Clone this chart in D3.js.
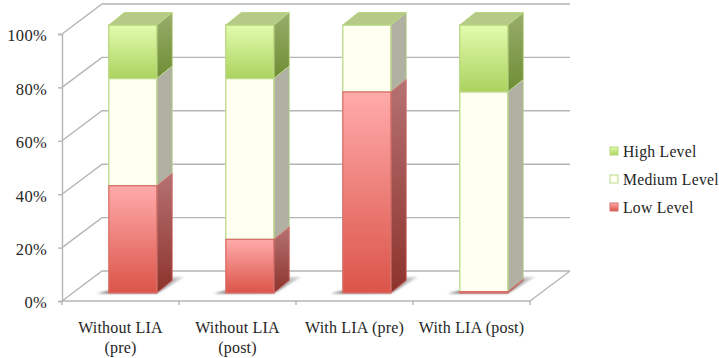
<!DOCTYPE html>
<html>
<head>
<meta charset="utf-8">
<script src="https://d3js.org/d3.v7.min.js"></script>
<style>
  html, body { margin: 0; padding: 0; background: #fff; }
  svg { display: block; }
  text { font-family: "Liberation Serif", serif; fill: #262626; }
</style>
</head>
<body>
<svg id="chart" width="719" height="358"></svg>
<script>
const categories = ["Without LIA|(pre)", "Without LIA|(post)", "With LIA (pre)", "With LIA (post)"];
const lowLevel = [0.40, 0.20, 0.75, 0.005];
const mediumLevel = [0.40, 0.60, 0.25, 0.745];
const highLevel = [0.20, 0.20, 0, 0.25];
const seriesKeys = ["low", "medium", "high"];
const seriesNames = { low: "Low Level", medium: "Medium Level", high: "High Level" };
const yTickValues = [0, 0.2, 0.4, 0.6, 0.8, 1];

const svg = d3.select("#chart");

// Perspective offsets: the back wall and the bars' own depth
const wallDX = 40, wallDY = -30;
const barDX = 15.5, barDY = -12.5;
const barWidth = 48, barInset = 46.8;

const x = d3.scaleBand().domain(categories).range([62, 530]);
const yFront = d3.scaleLinear().domain([0, 1]).range([301, 34]);
const yBar = d3.scaleLinear().domain([0, 1]).range([293, 25]);

const rows = categories.map((c, i) => ({
  category: c, low: lowLevel[i], medium: mediumLevel[i], high: highLevel[i]
}));
const stacked = d3.stack().keys(seriesKeys)(rows);

// Gradients and face colours per series
const palette = {
  low: { front: ["#ffabab", "#db5448"], side: ["#b57272", "#8d332c"], stroke: "#d8716a" },
  medium: { front: ["#fffff2", "#fffff2"], side: ["#b0b0a3", "#b0b0a3"], stroke: "#bcd98c" },
  high: { front: ["#e2fcae", "#abd25e"], side: ["#98ac6c", "#6e8d33"], stroke: "#b9d77f" }
};
const defs = svg.append("defs");
function addGradient(id, stops) {
  const g = defs.append("linearGradient").attr("id", id)
    .attr("x1", 0).attr("y1", 0).attr("x2", 0).attr("y2", 1);
  g.append("stop").attr("offset", "0%").attr("stop-color", stops[0]);
  g.append("stop").attr("offset", "100%").attr("stop-color", stops[1]);
}
seriesKeys.forEach(k => {
  addGradient("front-" + k, palette[k].front);
  addGradient("side-" + k, palette[k].side);
});
defs.append("filter").attr("id", "soft")
  .attr("x", "-20%").attr("y", "-40%").attr("width", "140%").attr("height", "180%")
  .append("feGaussianBlur").attr("stdDeviation", 1.1);
const shade = defs.append("linearGradient").attr("id", "floor-shadow")
  .attr("x1", 0).attr("y1", 0.6).attr("x2", 1).attr("y2", 0.4);
shade.append("stop").attr("offset", "0%").attr("stop-color", "#777777");
shade.append("stop").attr("offset", "70%").attr("stop-color", "#8f8f8f");
shade.append("stop").attr("offset", "100%").attr("stop-color", "#cfcfcf");

// Walls and floor
const gridColor = "#b5b5b5";
const walls = svg.append("g").attr("fill", "none").attr("stroke", gridColor).attr("stroke-width", 1.4);
yTickValues.forEach(v => {
  const yy = yFront(v);
  walls.append("path").attr("d", d3.line()([[62, yy], [62 + wallDX, yy + wallDY], [570, yy + wallDY]]));
});
walls.append("path").attr("d", d3.line()([[530, 301], [570, 301 + wallDY]]));
walls.append("path").attr("d", d3.line()([[62, 301], [530, 301]]));

// Axes
const yAxis = d3.axisLeft(yFront).tickValues(yTickValues).tickFormat(d3.format(".0%"))
  .tickSize(4).tickPadding(11);
const gy = svg.append("g").attr("transform", "translate(62,0)").call(yAxis);
gy.selectAll("path, line").attr("stroke", gridColor).attr("stroke-width", 1.4);
gy.selectAll("text").attr("font-size", 16.5).attr("letter-spacing", 0.3)
  .attr("font-family", "Liberation Serif").attr("dy", "0.42em");

const xAxis = d3.axisBottom(x).tickSize(0).tickPadding(0).tickFormat("");
const gx = svg.append("g").attr("transform", "translate(0,301)").call(xAxis);
gx.select("path").remove();
gx.selectAll("g.tick").each(function (d) {
  const lines = d.split("|");
  const t = d3.select(this).select("text")
    .attr("font-size", 16).attr("letter-spacing", 0.2)
    .attr("font-family", "Liberation Serif").attr("y", 0).attr("dy", null);
  lines.forEach((s, i) => t.append("tspan").attr("x", 0).attr("y", 32 + i * 20).text(s));
});
const edges = categories.map(c => x(c)).concat([x.range()[1]]);
svg.append("g").selectAll("line").data(edges).join("line")
  .attr("x1", d => d).attr("x2", d => d).attr("y1", 301).attr("y2", 305)
  .attr("stroke", gridColor).attr("stroke-width", 1.4);

// Soft floor shadows beneath each bar
svg.append("g").selectAll("path").data(categories).join("path")
  .attr("d", c => {
    const l = x(c) + barInset, b = yBar(0);
    return d3.line()([[l - 12, b + 0.5], [l + barWidth, b + 0.5], [l + barWidth + 27, b - 16], [l + barWidth + 10, b - 16]]);
  })
  .attr("fill", "url(#floor-shadow)")
  .attr("filter", "url(#soft)");

// Bars: each stacked segment gets a side face and a front face. Drawn from the
// top series down so the lower segment's outline sits over the shared edge.
const bars = svg.append("g");
stacked.slice().reverse().forEach(series => {
  const k = series.key;
  const seg = bars.append("g");
  series.forEach((d, i) => {
    if (d[1] - d[0] <= 0) return;
    const l = x(categories[i]) + barInset, r = l + barWidth;
    const y0 = yBar(d[0]), y1 = yBar(d[1]);
    seg.append("path")
      .attr("d", d3.line()([[r, y0], [r + barDX, y0 + barDY], [r + barDX, y1 + barDY], [r, y1]]) + "Z")
      .attr("fill", `url(#side-${k})`)
      .attr("stroke", palette[k].stroke)
      .attr("stroke-width", 1)
      .attr("stroke-opacity", 0.8);
    seg.append("rect")
      .attr("x", l).attr("y", y1).attr("width", barWidth).attr("height", y0 - y1)
      .attr("fill", `url(#front-${k})`)
      .attr("stroke", palette[k].stroke)
      .attr("stroke-width", 1.3);
  });
});

// Top caps always take the colour of the uppermost series
bars.append("g").selectAll("path").data(categories).join("path")
  .attr("d", c => {
    const l = x(c) + barInset, r = l + barWidth, t = yBar(1);
    return d3.line()([[l, t], [l + barDX, t + barDY], [r + barDX, t + barDY], [r, t]]) + "Z";
  })
  .attr("fill", "#b4ca86")
  .attr("stroke", palette.high.stroke)
  .attr("stroke-width", 1);

// Legend
const legendOrder = ["high", "medium", "low"];
const legendY = d3.scalePoint().domain(legendOrder).range([151, 207]);
const legend = svg.append("g").selectAll("g").data(legendOrder).join("g")
  .attr("transform", k => `translate(610,${legendY(k)})`);
legend.append("rect").attr("x", 0).attr("y", -4).attr("width", 8).attr("height", 8)
  .attr("fill", k => k === "medium" ? "#fffff2" : `url(#front-${k})`)
  .attr("stroke", k => palette[k].stroke).attr("stroke-width", 1);
legend.append("text").attr("x", 13).attr("y", 6)
  .attr("font-size", 15.7).attr("letter-spacing", 0.25)
  .text(k => seriesNames[k]);
</script>
</body>
</html>
